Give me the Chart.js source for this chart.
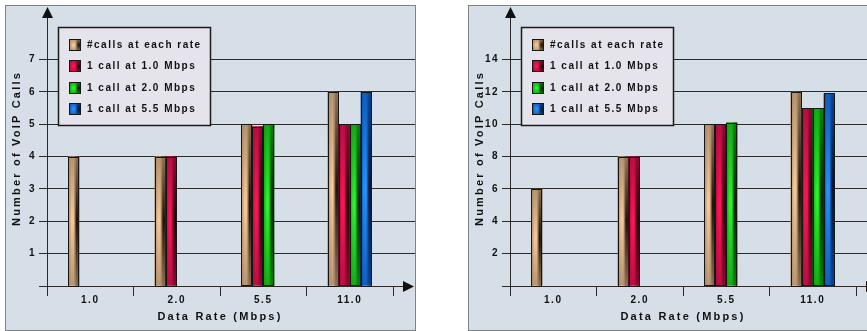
<!DOCTYPE html>
<html>
<head>
<meta charset="utf-8">
<script src="https://cdn.jsdelivr.net/npm/chart.js@4"></script>
<style>
  html, body { margin: 0; padding: 0; background: #ffffff; width: 867px; height: 331px; overflow: hidden; position: relative; }
  .panel { position: absolute; top: 5px; width: 409px; height: 324px; border: 1px solid #7d8287; background: #d6dfe7; }
  #panelA { left: 5px; }
  #panelB { left: 468px; }
  canvas { display: block; }
</style>
</head>
<body>
<div class="panel" id="panelA"><canvas id="chartA" width="409" height="324"></canvas></div>
<div class="panel" id="panelB"><canvas id="chartB" width="409" height="324"></canvas></div>
<script>
// Categories and series names
const rates = ['1.0', '2.0', '5.5', '11.0'];
const seriesNames = ['#calls at each rate', '1 call at 1.0 Mbps', '1 call at 2.0 Mbps', '1 call at 5.5 Mbps'];

// Left chart values
const leftAll   = [4, 4, 5, 6];
const left1_0   = [null, 4, 4.93, 5];
const left2_0   = [null, null, 5, 5];
const left5_5   = [null, null, null, 6];

// Right chart values
const rightAll  = [6, 8, 10, 12];
const right1_0  = [null, 8, 10, 11];
const right2_0  = [null, null, 10.1, 11];
const right5_5  = [null, null, null, 11.9];

// Tick values drawn on the vertical axes
const leftTicks  = [0, 1, 2, 3, 4, 5, 6, 7];
const rightTicks = [0, 2, 4, 6, 8, 10, 12, 14];

const xTitle = 'Data Rate (Mbps)';
const yTitle = 'Number of VoIP Calls';

// Shading for each series: mid tone, highlight, shadow
const palette = [
  { mid: '#a78766', light: '#f6c898', dark: '#1e140a' },
  { mid: '#a80c3c', light: '#ff1456', dark: '#26000a' },
  { mid: '#0f980f', light: '#2af42a', dark: '#002600' },
  { mid: '#0c50aa', light: '#2592ff', dark: '#001432' }
];

const ink = '#111111';
const lineInk = '#2a2a2a';
const fontFamily = '"Liberation Sans", Arial, sans-serif';
const tickFont = { family: fontFamily, size: 10, weight: 'bold', lineHeight: 1.2 };
const titleFont = { family: fontFamily, size: 11, weight: 'bold', lineHeight: 1.2 };

function withAlpha(hex, a) {
  const n = parseInt(hex.slice(1), 16);
  return 'rgba(' + (n >> 16 & 255) + ',' + (n >> 8 & 255) + ',' + (n & 255) + ',' + a + ')';
}

// Same rounding the library uses for 1px lines
function crisp(p) {
  return Math.round(p - 0.5) + 0.5;
}

// Fills a rectangle with the cylinder-like shading of a series:
// bright left, dark right, strongest at mid height
function shadeRect(ctx, pal, l, t, w, h) {
  const g = ctx.createLinearGradient(l, 0, l + w, 0);
  g.addColorStop(0, pal.mid);
  g.addColorStop(0.3, pal.light);
  g.addColorStop(0.5, pal.light);
  g.addColorStop(0.75, pal.dark);
  g.addColorStop(1, pal.dark);
  ctx.fillStyle = g;
  ctx.fillRect(l, t, w, h);
  const v = ctx.createLinearGradient(0, t, 0, t + h);
  v.addColorStop(0, withAlpha(pal.mid, 0.82));
  v.addColorStop(0.5, withAlpha(pal.mid, 0));
  v.addColorStop(1, withAlpha(pal.mid, 0.78));
  ctx.fillStyle = v;
  ctx.fillRect(l, t, w, h);
}

// Wide tracking on all canvas text, a bit wider for the axis titles
const tracking = {
  id: 'tracking',
  beforeInit(chart) {
    const ctx = chart.ctx;
    const fill = ctx.fillText;
    ctx.fillText = function () {
      this.letterSpacing = /\b11px\b/.test(this.font) ? '2.2px' : '1.5px';
      return fill.apply(this, arguments);
    };
  }
};

// Axis arrows and grid lines running out to the panel edge
const axisDecor = {
  id: 'axisDecor',
  beforeDatasetsDraw(chart) {
    const { ctx, chartArea: a, scales: { y } } = chart;
    ctx.save();
    ctx.strokeStyle = lineInk;
    ctx.lineWidth = 1;
    y.ticks.forEach(t => {
      const py = crisp(y.getPixelForValue(t.value));
      ctx.beginPath();
      ctx.moveTo(a.right, py);
      ctx.lineTo(t.value === 0 ? a.right + 18 : chart.width, py);
      ctx.stroke();
    });
    // arrow heads
    ctx.fillStyle = ink;
    const by = crisp(y.getPixelForValue(0));
    ctx.beginPath();
    ctx.moveTo(a.right + 21, by);
    ctx.lineTo(a.right + 10, by - 5.5);
    ctx.lineTo(a.right + 10, by + 5.5);
    ctx.closePath();
    ctx.fill();
    const ax = crisp(a.left);
    ctx.beginPath();
    ctx.moveTo(ax, a.top - 4);
    ctx.lineTo(ax - 5.5, a.top + 7);
    ctx.lineTo(ax + 5.5, a.top + 7);
    ctx.closePath();
    ctx.fill();
    ctx.restore();
  }
};

// Shaded bars drawn over the library's bar elements
const barShade = {
  id: 'barShade',
  afterDatasetsDraw(chart) {
    const ctx = chart.ctx;
    chart.data.datasets.forEach((ds, di) => {
      const meta = chart.getDatasetMeta(di);
      const pal = palette[di];
      meta.data.forEach((el, i) => {
        if (ds.data[i] == null) return;
        const p = el.getProps(['x', 'y', 'base', 'width'], true);
        const l = p.x - p.width / 2;
        const t = Math.min(p.y, p.base);
        const h = Math.abs(p.base - p.y);
        ctx.save();
        shadeRect(ctx, pal, l, t, p.width, h);
        ctx.strokeStyle = '#161616';
        ctx.lineWidth = 1;
        ctx.strokeRect(Math.round(l) + 0.5, Math.round(t) + 0.5, Math.round(p.width) - 1, Math.round(h));
        ctx.restore();
      });
    });
  }
};

// Boxed legend inside the plot area
const boxLegend = {
  id: 'boxLegend',
  afterDraw(chart) {
    const { ctx, chartArea: a } = chart;
    const bx = Math.round(a.left) + 11, by = Math.round(a.top) + 16, bw = 152, bh = 98;
    ctx.save();
    ctx.fillStyle = '#e5e3eb';
    ctx.fillRect(bx, by, bw, bh);
    ctx.strokeStyle = '#1a1a1a';
    ctx.lineWidth = 1.5;
    ctx.strokeRect(bx + 0.5, by + 0.5, bw, bh);
    ctx.font = 'bold 10px ' + fontFamily;
    ctx.textBaseline = 'middle';
    ctx.textAlign = 'left';
    chart.data.datasets.forEach((ds, di) => {
      const cy = by + 17.5 + di * 21.5;
      const sx = bx + 11, sy = Math.round(cy - 6);
      shadeRect(ctx, palette[di], sx, sy, 12, 12);
      ctx.strokeStyle = '#161616';
      ctx.lineWidth = 1;
      ctx.strokeRect(sx + 0.5, sy + 0.5, 11, 11);
      ctx.fillStyle = ink;
      ctx.fillText(ds.label, bx + 29, cy + 0.5);
    });
    ctx.restore();
  }
};

function buildChart(canvasId, series, ticks, yMax) {
  return new Chart(document.getElementById(canvasId), {
    type: 'bar',
    data: {
      labels: rates,
      datasets: series.map((vals, i) => ({
        label: seriesNames[i],
        data: vals,
        backgroundColor: palette[i].mid,
        borderColor: '#161616',
        borderWidth: 1,
        categoryPercentage: 0.51,
        barPercentage: 1.0
      }))
    },
    options: {
      responsive: false,
      animation: false,
      devicePixelRatio: 1,
      layout: { padding: { left: 0, top: 5, right: 22, bottom: 0 } },
      plugins: { legend: { display: false }, tooltip: { enabled: false } },
      scales: {
        x: {
          type: 'category',
          offset: true,
          grid: { display: true, offset: true, drawOnChartArea: false, drawTicks: true, tickLength: 10, color: lineInk, lineWidth: 1 },
          border: { display: true, color: lineInk, width: 1 },
          ticks: { color: ink, font: tickFont, padding: -2, maxRotation: 0, autoSkip: false },
          title: { display: true, text: xTitle, color: ink, font: titleFont, padding: { top: 0, bottom: 6 } },
          afterFit(scale) { scale.height = 44; scale.paddingLeft = 0; scale.paddingRight = 0; }
        },
        y: {
          min: 0,
          max: yMax,
          afterBuildTicks(scale) { scale.ticks = ticks.map(v => ({ value: v })); },
          grid: { color: lineInk, lineWidth: 1, drawTicks: true, tickLength: 8 },
          border: { display: true, color: lineInk, width: 1 },
          ticks: { color: ink, font: tickFont, padding: 3, callback: v => (v === 0 ? '' : String(v)) },
          title: { display: true, text: yTitle, color: ink, font: titleFont, padding: { top: 4, bottom: 0 } },
          afterFit(scale) { scale.width = 41; scale.paddingTop = 0; scale.paddingBottom = 0; }
        }
      }
    },
    plugins: [tracking, axisDecor, barShade, boxLegend]
  });
}

buildChart('chartA', [leftAll, left1_0, left2_0, left5_5], leftTicks, 8.5);
buildChart('chartB', [rightAll, right1_0, right2_0, right5_5], rightTicks, 17);
</script>
</body>
</html>
